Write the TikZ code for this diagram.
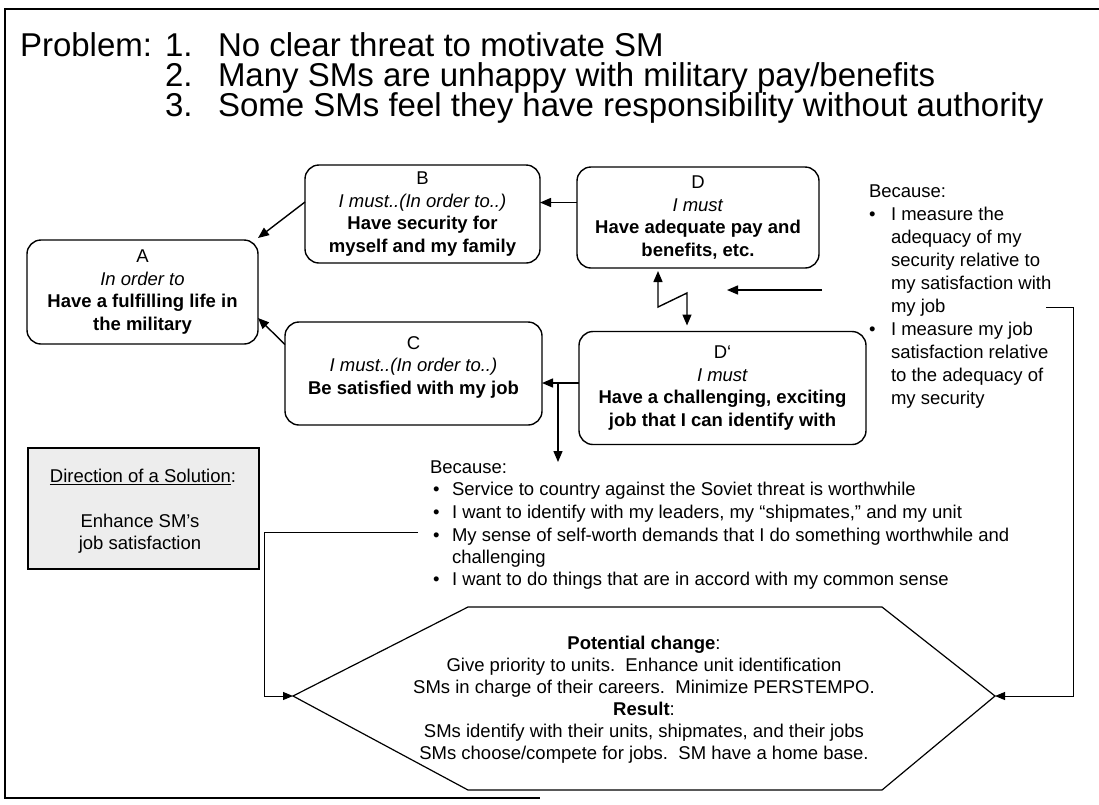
\documentclass[tikz,border=0pt]{standalone}
\usepackage{fontspec}
\setmainfont{Liberation Sans}
\usetikzlibrary{arrows.meta}
\begin{document}
\begin{tikzpicture}[x=1pt,y=-1pt,
  every node/.style={font=\fontsize{18.5}{22.5}\selectfont, inner sep=0pt, outer sep=0pt},
  box/.style={draw, line width=1.4pt, rounded corners=14pt, align=center},
  arr/.style={line width=1.4pt, -{Triangle[length=11pt,width=9pt]}},
  dblarr/.style={line width=1.4pt, {Triangle[length=11pt,width=9pt]}-{Triangle[length=11pt,width=9pt]}},
  conn/.style={line width=1pt, -{Triangle[length=10pt,width=8pt]}},
  ttl/.style={font=\fontsize{33}{30}\selectfont, anchor=base west},
  txt/.style={anchor=base west},
]
\useasboundingbox (0,0) rectangle (1099,804);
% frame
\draw[line width=1.2pt] (1099,9) -- (5,9) -- (5,798) -- (540,798);

% title
\node[ttl] (p0) at (20,56) {Problem:};
\node[ttl] (n1) at (165,56) {1.};
\node[ttl] (t1) at (218,56) {No clear threat to motivate SM};
\node[ttl] (n2) at (165,86) {2.};
\node[ttl] (t2) at (218,86) {Many SMs are unhappy with military pay/benefits};
\node[ttl] (n3) at (165,116) {3.};
\node[ttl] (t3) at (218,116) {Some SMs feel they have responsibility without authority};

% boxes
\node[box, minimum width=231pt, minimum height=104pt] (A) at (142.5,292)
  {A\\\textit{In order to}\\\textbf{Have a fulfilling life in}\\\textbf{the military}};
\node[box, minimum width=235pt, minimum height=98pt] (B) at (422.5,214)
  {B\\\textit{I must..(In order to..)}\\\textbf{Have security for}\\\textbf{myself and my family}};
\node[box, minimum width=242pt, minimum height=101pt] (D) at (698,217.5)
  {D\\\textit{I must}\\\textbf{Have adequate pay and}\\\textbf{benefits, etc.}};
\node[box, minimum width=257pt, minimum height=103pt] (C) at (413.5,373.5)
  {C\\\textit{I must..(In order to..)}\\\textbf{Be satisfied with my job}\\[-6pt]\mbox{}};
\node[box, minimum width=287pt, minimum height=113pt] (Dp) at (722.5,388)
  {D`\\\textit{I must}\\\textbf{Have a challenging, exciting}\\\textbf{job that I can identify with}};

% arrows between boxes
\coordinate (dw) at ([yshift=15pt]D.west);
\draw[arr] (dw) -- (B.east |- dw);
\draw[arr] ([yshift=12pt]B.west) -- ([yshift=2pt]A.north east);
\draw[arr] ([yshift=29pt]C.west) -- ([yshift=-26pt]A.east);
\coordinate (dpw) at ([yshift=5pt]Dp.west);
\draw[arr] (dpw) -- (C.east |- dpw);
\coordinate (jn) at (558,383);
\coordinate (jt) at (558,462);
\draw[arr] (jn) -- (jt);

% zigzag
\coordinate (zA) at (658,307);
\coordinate (zB) at (687,293);
\draw[dblarr, shorten <=3pt, shorten >=6pt] (D.south -| zA) -- (zA) -- (zB) -- (Dp.north -| zB);

% right pointing arrow
\coordinate (ra) at (822,290);
\coordinate (rb) at (727,290);
\draw[arr] (ra) -- (rb);

% right text block
\node[txt] (rb0) at (869,197.6) {Because:};
\node[txt] (rbul1) at (869,220.6) {\textbullet};
\node[txt] (r1) at (891,220.6) {I measure the};
\node[txt] (r2) at (891,243.6) {adequacy of my};
\node[txt] (r3) at (891,266.6) {security relative to};
\node[txt] (r4) at (891,289.6) {my satisfaction with};
\node[txt] (r5) at (891,312.6) {my job};
\node[txt] (rbul2) at (869,335.6) {\textbullet};
\node[txt] (r6) at (891,335.6) {I measure my job};
\node[txt] (r7) at (891,358.6) {satisfaction relative};
\node[txt] (r8) at (891,381.6) {to the adequacy of};
\node[txt] (r9) at (891,404.6) {my security};

% bottom text block
\node[txt] (b0) at (430,473.6) {Because:};
\node[txt] (bb1) at (433,495.6) {\textbullet};
\node[txt] (b1) at (452,495.6) {Service to country against the Soviet threat is worthwhile};
\node[txt] (bb2) at (433,518.6) {\textbullet};
\node[txt] (b2) at (452,518.6) {I want to identify with my leaders, my “shipmates,” and my unit};
\node[txt] (bb3) at (433,541.6) {\textbullet};
\node[txt] (b3) at (452,541.6) {My sense of self-worth demands that I do something worthwhile and};
\node[txt] (b3b) at (452,563.6) {challenging};
\node[txt] (bb4) at (433,585.6) {\textbullet};
\node[txt] (b4) at (452,585.6) {I want to do things that are in accord with my common sense};

% direction box
\node[draw, line width=1.3pt, fill=black!7, minimum width=231pt, minimum height=121pt] (dir) at (143.5,508.5) {};
\node (dirt) at (143,477) {\underline{Direction of a Solution}:};
\node[align=center, font=\fontsize{18.5}{22}\selectfont] (dirs) at (140,534) {Enhance SM’s\\job satisfaction};

% hexagon
\coordinate (hL) at (293,696);
\coordinate (hR) at (995,696);
\draw[line width=1.2pt] (hL) -- (468,607) -- (882,607) -- (hR) -- (882,790) -- (468,790) -- cycle;
\node[align=center, font=\fontsize{18.5}{22}\selectfont] (hex) at (644,700)
  {\textbf{Potential change}:\\Give priority to units.\ \ Enhance unit identification\\SMs in charge of their careers.\ \ Minimize PERSTEMPO.\\\textbf{Result}:\\SMs identify with their units, shipmates, and their jobs\\SMs choose/compete for jobs.\ \ SM have a home base.};

% connectors to hexagon
\coordinate (ls) at (418,532);
\coordinate (lc) at (264,532);
\draw[conn] (ls) -- (lc) |- (hL);
\coordinate (rs) at (1046,307);
\coordinate (rc) at (1073,307);
\draw[conn] (rs) -- (rc) |- (hR);
\end{tikzpicture}
\end{document}
